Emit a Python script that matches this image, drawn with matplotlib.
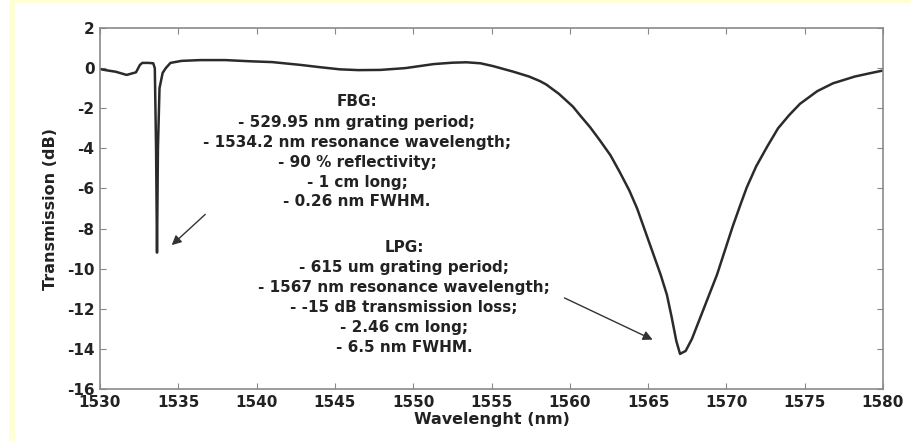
import matplotlib
matplotlib.use("Agg")
import matplotlib.pyplot as plt
from matplotlib.patches import Rectangle

# ---- data ----
wavelength_nm = [1530.0, 1530.5, 1531.0, 1531.7, 1532.3, 1532.55, 1532.7, 1533.1, 1533.4,
                 1533.5, 1533.58, 1533.64, 1533.7, 1533.8, 1534.0, 1534.2, 1534.5,
                 1535.2, 1536.4, 1538.0, 1539.6, 1541.0, 1542.8, 1544.0, 1545.3, 1546.5,
                 1547.9, 1549.5, 1551.3, 1552.5, 1553.4, 1554.3, 1555.1, 1556.4, 1557.4,
                 1558.1, 1558.5, 1559.3, 1560.2, 1560.65, 1561.3, 1561.9, 1562.6, 1563.2,
                 1563.8, 1564.3, 1564.8, 1565.3, 1565.8, 1566.2, 1566.5, 1566.8, 1567.04,
                 1567.4, 1567.8, 1568.3, 1568.8, 1569.4, 1569.9, 1570.4, 1570.9, 1571.3,
                 1571.9, 1572.6, 1573.3, 1574.0, 1574.7, 1575.8, 1576.8, 1578.2, 1579.2,
                 1580.0]
transmission_db = [-0.05, -0.12, -0.18, -0.34, -0.21, 0.16, 0.26, 0.26, 0.24,
                   0.0, -4.0, -9.2, -4.0, -1.0, -0.24, 0.0, 0.26,
                   0.36, 0.4, 0.4, 0.34, 0.3, 0.16, 0.05, -0.06, -0.1,
                   -0.09, 0.0, 0.2, 0.27, 0.29, 0.24, 0.1, -0.18, -0.42,
                   -0.65, -0.82, -1.28, -1.92, -2.35, -2.95, -3.58, -4.35, -5.2,
                   -6.1, -7.0, -8.1, -9.2, -10.3, -11.3, -12.4, -13.6, -14.25,
                   -14.1, -13.5, -12.5, -11.5, -10.3, -9.1, -7.9, -6.8, -5.95,
                   -4.9, -3.92, -3.0, -2.35, -1.78, -1.15, -0.76, -0.42, -0.25,
                   -0.12]

x_ticks = [1530, 1535, 1540, 1545, 1550, 1555, 1560, 1565, 1570, 1575, 1580]
y_ticks = [-16, -14, -12, -10, -8, -6, -4, -2, 0, 2]

fbg_lines = ["FBG:",
             "- 529.95 nm grating period;",
             "- 1534.2 nm resonance wavelength;",
             "- 90 % reflectivity;",
             "- 1 cm long;",
             "- 0.26 nm FWHM."]
lpg_lines = ["LPG:",
             "- 615 um grating period;",
             "- 1567 nm resonance wavelength;",
             "- -15 dB transmission loss;",
             "- 2.46 cm long;",
             "- 6.5 nm FWHM."]

plt.rcParams['axes.unicode_minus'] = False
plt.rcParams['font.family'] = ['DejaVu Sans']

W, H = 912, 441
fig = plt.figure(figsize=(W / 100, H / 100), dpi=100)
fig.patch.set_facecolor('white')

# yellow frame
yel = '#FFFFD6'
fig.patches.append(Rectangle((9 / W, 0), 6 / W, 1, transform=fig.transFigure,
                             facecolor=yel, edgecolor='none', zorder=0))
fig.patches.append(Rectangle((9 / W, 1 - 3 / H), 1 - 9 / W, 3 / H, transform=fig.transFigure,
                             facecolor=yel, edgecolor='none', zorder=0))

ax = fig.add_axes([100 / W, (H - 389) / H, 783 / W, 361 / H])
ax.plot(wavelength_nm, transmission_db, color='#2b2b2b', lw=1.8,
        solid_joinstyle='round', solid_capstyle='round')

ax.set_xlim(1530, 1580)
ax.set_ylim(-16, 2)
ax.set_xticks(x_ticks)
ax.set_yticks(y_ticks)
ax.tick_params(direction='in', length=4, width=0.8, color='#888888',
               top=True, right=True, labelsize=11, labelcolor='#222222', pad=4)
for lbl in ax.get_xticklabels() + ax.get_yticklabels():
    lbl.set_fontweight('bold')
for sp in ax.spines.values():
    sp.set_color('#8a8a8a')
    sp.set_linewidth(1.2)

ax.set_xlabel('Wavelenght (nm)', fontsize=11.5, fontweight='bold', color='#222222', labelpad=2)
ax.set_ylabel('Transmission (dB)', fontsize=11.5, fontweight='bold', color='#222222', labelpad=6)

# annotation text blocks (pixel-based placement converted to axes fraction)
def px_to_axes(px, py):
    return ((px - 100) / 783, (389 - py) / 361)

for i, line in enumerate(fbg_lines):
    xa, ya = px_to_axes(357, 102 + i * 20)
    ax.text(xa, ya, line, transform=ax.transAxes, ha='center', va='center',
            fontsize=11, fontweight='bold', color='#222222')
for i, line in enumerate(lpg_lines):
    xa, ya = px_to_axes(404, 247 + i * 20.2)
    ax.text(xa, ya, line, transform=ax.transAxes, ha='center', va='center',
            fontsize=11, fontweight='bold', color='#222222')

arrow_kw = dict(arrowstyle='-|>', color='#333333', lw=1.0, mutation_scale=14)
ax.annotate('', xy=(1534.45, -8.92), xytext=(1536.85, -7.2), arrowprops=arrow_kw)
ax.annotate('', xy=(1565.45, -13.6), xytext=(1559.5, -11.4), arrowprops=arrow_kw)

fig.savefig('out.png', dpi=100, facecolor='white')
